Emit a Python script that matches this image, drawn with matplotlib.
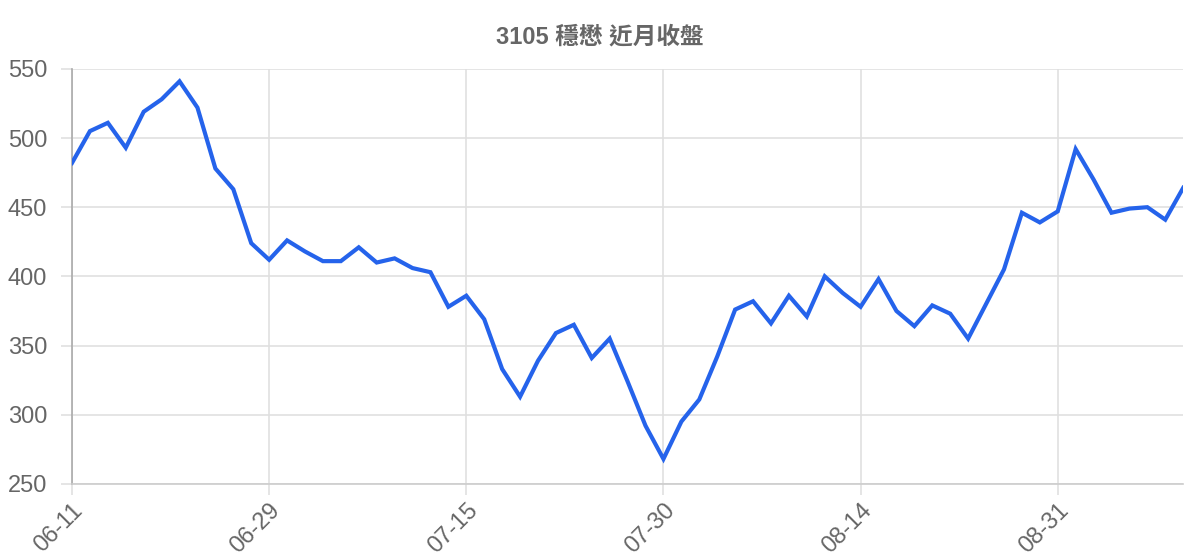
import matplotlib
matplotlib.use("Agg")
import matplotlib.pyplot as plt

plt.rcParams['font.family'] = ['Liberation Sans', 'Noto Sans CJK TC', 'DejaVu Sans']

# 日期與收盤價
dates = [
    "06-11", "06-12", "06-15", "06-16", "06-17", "06-18", "06-19", "06-20", "06-22", "06-23", "06-24",
    "06-29", "06-30", "07-01", "07-02", "07-06", "07-07", "07-08", "07-09", "07-10", "07-13", "07-14",
    "07-15", "07-16", "07-17", "07-20", "07-21", "07-22", "07-23", "07-24", "07-27", "07-28", "07-29",
    "07-30", "07-31", "08-03", "08-04", "08-05", "08-06", "08-07", "08-10", "08-11", "08-12", "08-13",
    "08-14", "08-17", "08-18", "08-19", "08-20", "08-21", "08-24", "08-25", "08-26", "08-27", "08-28",
    "08-31", "09-01", "09-02", "09-03", "09-04", "09-07", "09-08", "09-09",
]
closes = [
    482, 505, 511, 493, 519, 528, 541, 522, 478, 463, 424,
    412, 426, 418, 411, 411, 421, 410, 413, 406, 403, 378,
    386, 369, 333, 313, 339, 359, 365, 341, 355, 324, 292,
    268, 295, 311, 342, 376, 382, 366, 386, 371, 400, 388,
    378, 398, 375, 364, 379, 373, 355, 380, 405, 446, 439,
    447, 492, 470, 446, 449, 450, 441, 464,
]
title = "3105 穩懋 近月收盤"
y_ticks = [250, 300, 350, 400, 450, 500, 550]

fig = plt.figure(figsize=(12, 5.6), dpi=100)
ax = fig.add_axes([0.06, 0.136, 0.926, 0.741])

x = list(range(len(closes)))
ax.plot(x, closes, color='#2563EB', linewidth=3, solid_joinstyle='miter', zorder=3)

tick_idx = list(range(0, len(dates), 11))
ax.set_xticks(tick_idx)
ax.set_xticklabels([dates[i] for i in tick_idx], rotation=45, ha='right',
                   rotation_mode='anchor', fontsize=17, color='#666666')
ax.set_yticks(y_ticks)
ax.set_yticklabels([str(v) for v in y_ticks], fontsize=17, color='#666666')

ax.set_xlim(0, len(closes) - 1)
ax.set_ylim(250, 550)

ax.grid(True, color='#e0e0e0', linewidth=1.2)
ax.set_axisbelow(True)
ax.tick_params(axis='both', length=8, width=1.2, color='#e0e0e0')
ax.tick_params(axis='y', pad=10)
ax.tick_params(axis='x', pad=3)

for s in ['top', 'right']:
    ax.spines[s].set_visible(False)
ax.spines['left'].set_color('#aaaaaa')
ax.spines['left'].set_linewidth(1.2)
ax.spines['bottom'].set_color('#cccccc')
ax.spines['bottom'].set_linewidth(1.2)

fig.suptitle(title, x=0.5, y=0.955, fontsize=17, fontweight='bold', color='#666666')

fig.savefig("out.png", dpi=100)
